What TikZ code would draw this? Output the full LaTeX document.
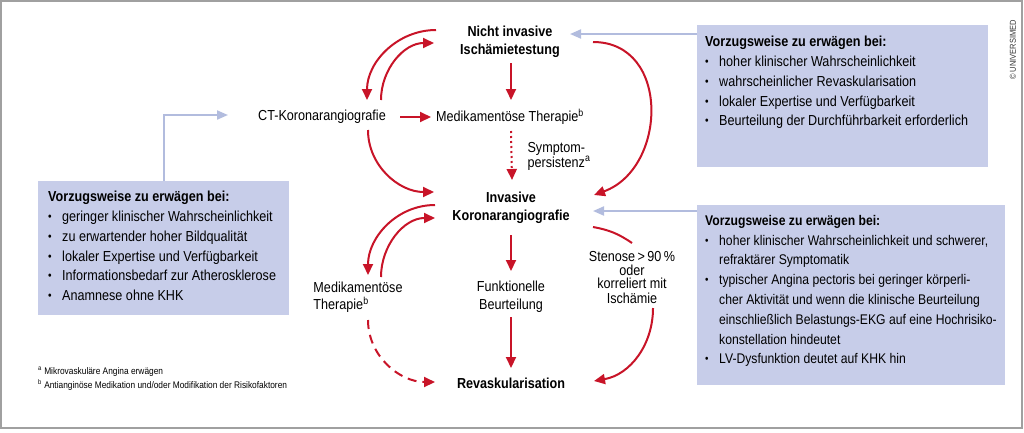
\documentclass[tikz,border=0pt]{standalone}
\usepackage{fontspec}
\setmainfont{Liberation Sans}[FakeStretch=0.87]
\usetikzlibrary{arrows.meta}

\definecolor{flowred}{RGB}{200,20,40}
\definecolor{boxblue}{RGB}{199,205,233}
\definecolor{linkblue}{RGB}{178,188,222}
\definecolor{framegray}{RGB}{160,160,160}

\newcommand{\bitem}{\makebox[14pt][l]{\raisebox{1pt}{\scalebox{0.8}{•}}}}
\newcommand{\bind}{\hspace*{14pt}}

\tikzstyle{flowtext}=[align=center,inner sep=2pt,font=\fontsize{14.5}{18}\selectfont]
\tikzstyle{flowbold}=[flowtext,font=\fontsize{14.5}{18}\selectfont\bfseries]
\tikzstyle{infobox}=[fill=boxblue,inner sep=0pt,anchor=north west]
\tikzstyle{infotext}=[align=left,inner sep=0pt,anchor=north west,font=\fontsize{14.5}{19.8}\selectfont]
\tikzset{
	redarrow/.style={draw=flowred,line width=2pt,-{Triangle[length=11pt,width=10pt]}},
	bluearrow/.style={draw=linkblue,line width=2pt,-{Triangle[length=11pt,width=9pt]}}
}

\begin{document}
\begin{tikzpicture}[x=1pt,y=1pt]
	\useasboundingbox (0,0) rectangle (1024,-432);
	\draw[framegray,line width=1.5pt] (1,-1) rectangle (1022,-428);

	% flow nodes
	\node (NI)[flowbold] at (510,-42) {Nicht invasive\\Ischämietestung};
	\node (CT)[flowtext] at (322,-117) {CT-Koronarangiografie};
	\node (MT)[flowtext] at (510,-117) {Medikamentöse Therapie\textsuperscript{b}};
	\node (SP)[flowtext,align=left,font=\fontsize{14.5}{15}\selectfont] at (559,-156) {Symptom-\\persistenz\textsuperscript{a}};
	\node (IK)[flowbold] at (511,-208) {Invasive\\Koronarangiografie};
	\node (MT2)[flowtext,align=left,font=\fontsize{14.5}{17}\selectfont] at (358,-297) {Medikamentöse\\Therapie\textsuperscript{b}};
	\node (FB)[flowtext] at (511,-297) {Funktionelle\\Beurteilung};
	\node (ST)[flowtext,font=\fontsize{14.5}{14}\selectfont] at (632,-277) {Stenose\,>\,90\,\%\\oder\\korreliert mit\\Ischämie};
	\node (RV)[flowbold] at (511,-383) {Revaskularisation};

	% info boxes
	\node (IB1)[infobox,minimum width=291pt,minimum height=142pt] at (697,-25) {};
	\node (IT1)[infotext] at ([shift={(8,-11)}]IB1.north west) {\textbf{Vorzugsweise zu erwägen bei:}\\
		\bitem hoher klinischer Wahrscheinlichkeit\\
		\bitem wahrscheinlicher Revaskularisation\\
		\bitem lokaler Expertise und Verfügbarkeit\\
		\bitem Beurteilung der Durchführbarkeit erforderlich};
	\node (IB2)[infobox,minimum width=251pt,minimum height=134pt] at (38,-181) {};
	\node (IT2)[infotext] at ([shift={(10,-10)}]IB2.north west) {\textbf{Vorzugsweise zu erwägen bei:}\\
		\bitem geringer klinischer Wahrscheinlichkeit\\
		\bitem zu erwartender hoher Bildqualität\\
		\bitem lokaler Expertise und Verfügbarkeit\\
		\bitem Informationsbedarf zur Atherosklerose\\
		\bitem Anamnese ohne KHK};
	\node (IB3)[infobox,minimum width=308pt,minimum height=180pt] at (697,-205) {};
	\node (IT3)[infotext,font=\fontsize{14}{19.8}\selectfont] at ([shift={(8,-10)}]IB3.north west) {\textbf{Vorzugsweise zu erwägen bei:}\\
		\bitem hoher klinischer Wahrscheinlichkeit und schwerer,\\
		\bind refraktärer Symptomatik\\
		\bitem typischer Angina pectoris bei geringer körperli-\\
		\bind cher Aktivität und wenn die klinische Beurteilung\\
		\bind einschließlich Belastungs-EKG auf eine Hochrisiko-\\
		\bind konstellation hindeutet\\
		\bitem LV-Dysfunktion deutet auf KHK hin};

	% footnotes and credit
	\node (FN)[anchor=north west,align=left,inner sep=0pt,font=\fontsize{9.6}{14}\selectfont] at (38,-367) {\textsuperscript{a} Mikrovaskuläre Angina erwägen\\\textsuperscript{b} Antianginöse Medikation und/oder Modifikation der Risikofaktoren};
	\node (CR)[rotate=90,inner sep=0pt,font=\fontsize{8.6}{8}\selectfont,text=black!80] at (1013,-50) {© UNIVERSIMED};

	% upper part
	\draw[redarrow] ([shift={(-74,12)}]NI.center) to[out=180,in=90] ([shift={(45,17)}]CT.center);
	\draw[redarrow] ([shift={(59,17)}]CT.center) to[out=90,in=180] ([shift={(-76,-1)}]NI.center);
	\draw[redarrow] ([shift={(1,-21)}]NI.center) -- ([shift={(1,17)}]MT.center);
	\draw[redarrow] ([shift={(78,0)}]CT.center) -- ([shift={(-79,0)}]MT.center);
	\draw[redarrow,dash pattern=on 2pt off 3pt] ([shift={(1,-14)}]MT.center) -- ([shift={(1,28)}]IK.center);
	\draw[redarrow] ([shift={(46,-13)}]CT.center) to[out=-90,in=180] ([shift={(-77,16)}]IK.center);
	\draw[redarrow] ([shift={(83,0)}]NI.center) to[out=0,in=20,looseness=1.3] ([shift={(83,13)}]IK.center);

	% lower part
	\draw[redarrow] ([shift={(-76,3)}]IK.center) to[out=180,in=90] ([shift={(10,22)}]MT2.center);
	\draw[redarrow] ([shift={(23,20)}]MT2.center) to[out=90,in=180] ([shift={(-76,-10)}]IK.center);
	\draw[redarrow] ([shift={(0,-27)}]IK.center) -- ([shift={(0,26)}]FB.center);
	\draw[redarrow] ([shift={(0,-20)}]FB.center) -- ([shift={(0,15)}]RV.center);
	\draw[redarrow,dash pattern=on 9pt off 6pt] ([shift={(10,-23)}]MT2.center) to[out=-90,in=180] ([shift={(-76,1)}]RV.center);
	\draw[flowred,line width=2pt] ([shift={(82,-19)}]IK.center) to[bend left=12] ([shift={(0,34)}]ST.center);
	\draw[redarrow] ([shift={(21,-31)}]ST.center) to[out=-90,in=10] ([shift={(83,2)}]RV.center);

	% links from the boxes
	\draw[bluearrow] ([yshift=-9pt]IB1.north west) -- ([shift={(60,8)}]NI.center);
	\draw[bluearrow] (IB2.north) |- ([shift={(-94,2)}]CT.center);
	\draw[bluearrow] ([yshift=-6pt]IB3.north west) -- ([shift={(82,-3)}]IK.center);
\end{tikzpicture}
\end{document}
